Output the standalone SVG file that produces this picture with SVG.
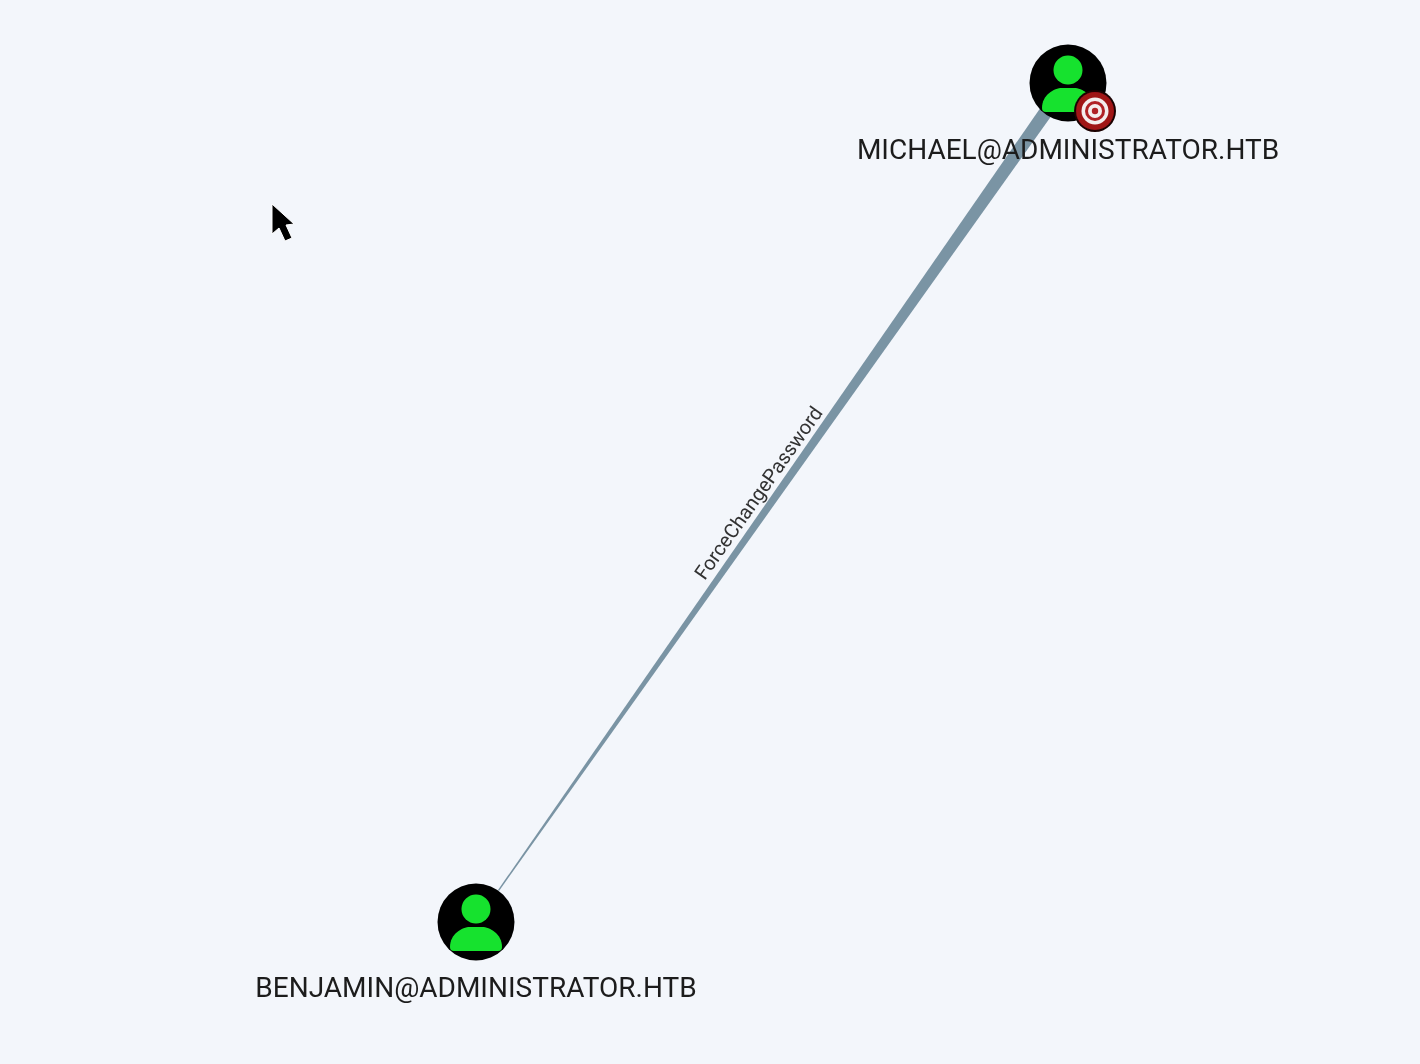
<svg xmlns="http://www.w3.org/2000/svg" width="1420" height="1064" viewBox="0 0 1420 1064">
<style>
.bg{fill:#f3f6fb}
.disc{fill:#000}
.fig{fill:#18e22e}
.name{font-family:Roboto,"Liberation Sans",sans-serif;font-size:28px;fill:#1c1c1c;text-anchor:middle}
.elabel{font-family:Roboto,"Liberation Sans",sans-serif;font-size:20px;fill:#333;text-anchor:middle}
</style>
<defs>
<filter id="soft" x="-10%" y="-10%" width="120%" height="120%"><feGaussianBlur stdDeviation="0.7"/></filter>
<g id="user">
<circle class="disc" r="38.5"/>
<circle class="fig" cx="0" cy="-13" r="14.5"/>
<path class="fig" d="M-26 25C-26 12-14 5-6 5H6C14 5 26 12 26 25Q26 29 22 29H-22Q-26 29-26 25Z"/>
</g>
</defs>
<rect class="bg" width="1420" height="1064"/>
<g id="connectors" filter="url(#soft)">
<polygon points="498,890 499,891 1052,115 1041,107" fill="#7a94a4"/>
<text class="elabel" transform="translate(760,494) rotate(-54.8)" dy="5">ForceChangePassword</text>
</g>
<g id="node-michael" filter="url(#soft)">
<use href="#user" x="1068" y="83"/>
<circle cx="1095" cy="111" r="21" fill="#1a0606"/>
<circle cx="1095" cy="111" r="19" fill="#a01216"/>
<circle cx="1095" cy="111" r="13.5" fill="#f4eeee"/>
<circle cx="1095" cy="111" r="10" fill="#b02226"/>
<circle cx="1095" cy="111" r="7" fill="#f4eeee"/>
<circle cx="1095" cy="111" r="3.2" fill="#b02226"/>
<text class="name" x="1068" y="159">MICHAEL@ADMINISTRATOR.HTB</text>
</g>
<g id="node-benjamin" filter="url(#soft)">
<use href="#user" x="476" y="922"/>
<text class="name" x="476" y="997">BENJAMIN@ADMINISTRATOR.HTB</text>
</g>
<g id="cursor" filter="url(#soft)">
<path d="M272 204V234L279 228L285 241L292 238L286 225L294 224Z" fill="#000" stroke="#fff" stroke-width="1"/>
</g>
</svg>
